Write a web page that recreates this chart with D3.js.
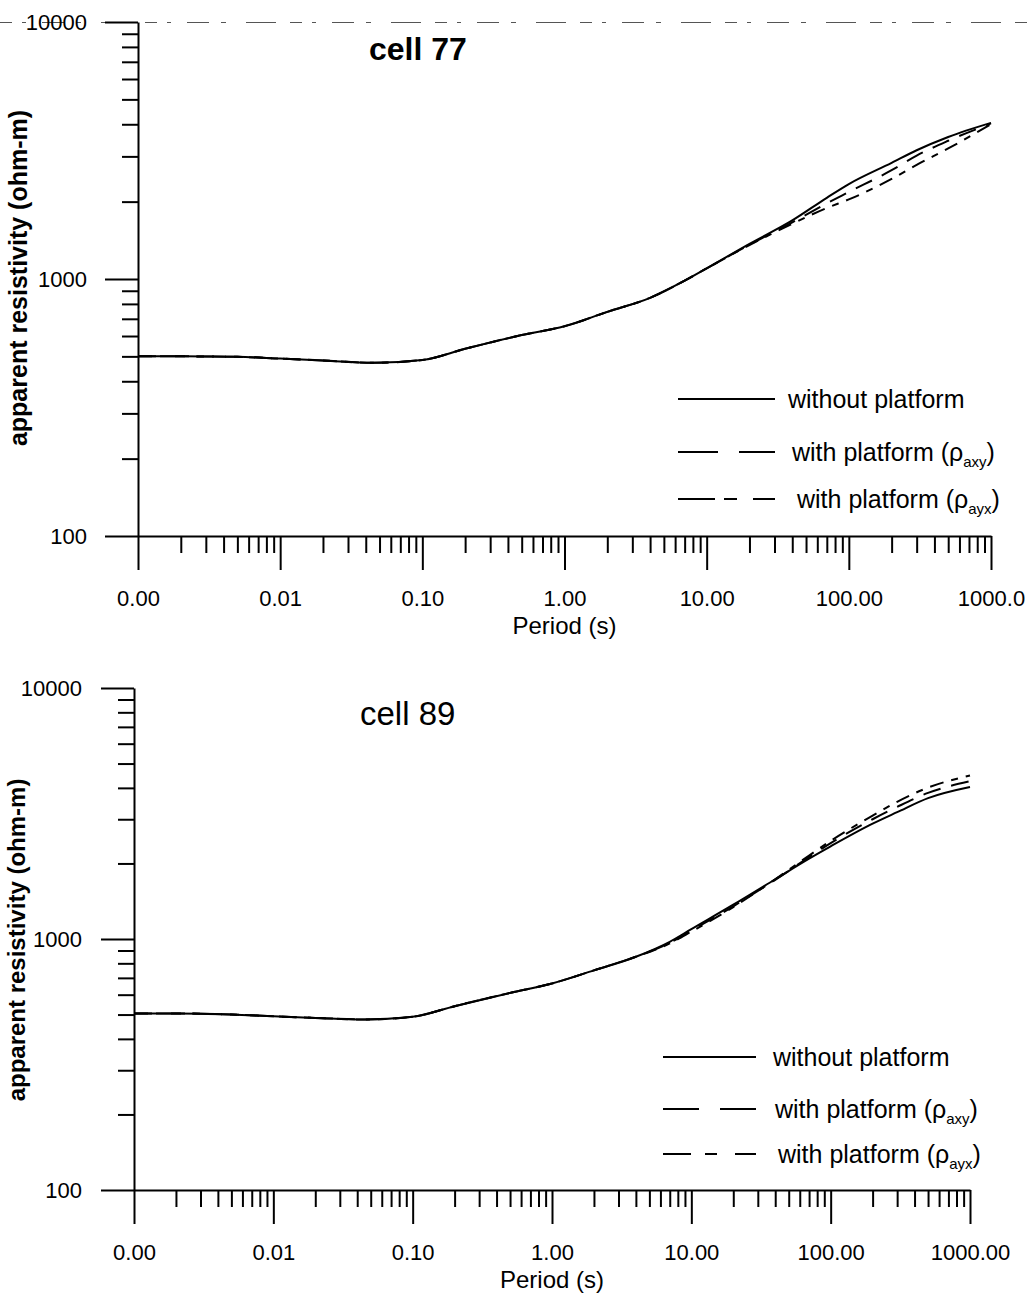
<!DOCTYPE html>
<html>
<head>
<meta charset="utf-8">
<script src="https://cdn.jsdelivr.net/npm/d3@7"></script>
<style>
  body { margin: 0; background: #fff; }
  svg { display: block; }
</style>
</head>
<body>
<svg id="chart"></svg>
<script>
// periods (s) shared by every curve
const periods = [0.001, 0.002, 0.005, 0.01, 0.02, 0.045, 0.1, 0.2, 0.5, 1, 2, 4, 7, 10, 20, 40, 70, 100, 200, 300, 500, 1000];

// cell 77 apparent resistivity (ohm-m)
const cell77Without = [500, 500, 498, 490, 482, 472, 484, 535, 605, 655, 745, 845, 985, 1100, 1370, 1690, 2070, 2340, 2830, 3170, 3570, 4050];
const cell77Axy     = [500, 500, 498, 490, 482, 472, 484, 535, 605, 655, 745, 845, 985, 1100, 1360, 1660, 1970, 2180, 2650, 3020, 3450, 4030];
const cell77Ayx     = [500, 500, 498, 490, 482, 472, 484, 535, 605, 655, 745, 845, 985, 1100, 1355, 1640, 1890, 2040, 2450, 2780, 3220, 4000];

// cell 89 apparent resistivity (ohm-m)
const cell89Without = [505, 505, 500, 492, 485, 478, 490, 540, 610, 665, 750, 850, 975, 1095, 1370, 1730, 2090, 2340, 2880, 3200, 3640, 4030];
const cell89Axy     = [505, 505, 500, 492, 485, 478, 490, 540, 610, 665, 750, 850, 965, 1080, 1350, 1720, 2120, 2410, 3000, 3360, 3820, 4250];
const cell89Ayx     = [505, 505, 500, 492, 485, 478, 490, 540, 610, 665, 750, 850, 960, 1070, 1340, 1730, 2150, 2460, 3100, 3520, 4010, 4480];

// ticks
const xTickValues = [0.001, 0.01, 0.1, 1, 10, 100, 1000];
const xTickLabelsTop = ["0.00", "0.01", "0.10", "1.00", "10.00", "100.00", "1000.0"];
const xTickLabelsBottom = ["0.00", "0.01", "0.10", "1.00", "10.00", "100.00", "1000.00"];
const yTickValues = [100, 1000, 10000];
const yTickLabels = ["100", "1000", "10000"];

// legend
const legendText = ["without platform", "with platform (\u03c1", "with platform (\u03c1"];
const legendSub = ["", "axy", "ayx"];

const FONT = "'Liberation Sans', Arial, Helvetica, sans-serif";
const width = 1032;
const height = 1296;

const svg = d3.select("#chart")
  .attr("width", width)
  .attr("height", height)
  .style("background", "#fff");

// scan artifact along the top edge
svg.append("line")
  .attr("x1", 0).attr("x2", width)
  .attr("y1", 22.5).attr("y2", 22.5)
  .attr("stroke", "#555")
  .attr("stroke-width", 1)
  .attr("stroke-dasharray", "12,10,4,16,22,12,5,20,30,14");

// minor ticks 2..9 in every decade
const minorX = [];
for (let e = -3; e < 3; e++) for (let k = 2; k <= 9; k++) minorX.push(k * Math.pow(10, e));
const minorY = [];
for (let e = 2; e < 4; e++) for (let k = 2; k <= 9; k++) minorY.push(k * Math.pow(10, e));

function drawPanel(p) {
  const x = d3.scaleLog().domain([0.001, 1000]).range([p.left, p.right]);
  const y = d3.scaleLog().domain([100, 10000]).range([p.bottom, p.top]);
  const g = svg.append("g");

  // y axis: minor then major
  g.append("g")
    .attr("transform", `translate(${p.left},0)`)
    .call(d3.axisLeft(y).tickValues(minorY).tickSize(16).tickFormat(""))
    .call(a => a.select(".domain").remove());
  g.append("g")
    .attr("transform", `translate(${p.left},0)`)
    .call(d3.axisLeft(y).tickValues(yTickValues).tickSize(33).tickSizeOuter(0)
      .tickPadding(p.yPad).tickFormat((d, i) => yTickLabels[i]))
    .attr("font-size", 22).attr("font-family", FONT);

  // x axis: minor then major
  g.append("g")
    .attr("transform", `translate(0,${p.bottom})`)
    .call(d3.axisBottom(x).tickValues(minorX).tickSize(17).tickFormat(""))
    .call(a => a.select(".domain").remove());
  g.append("g")
    .attr("transform", `translate(0,${p.bottom})`)
    .call(d3.axisBottom(x).tickValues(xTickValues).tickSize(34).tickSizeOuter(0)
      .tickPadding(20).tickFormat((d, i) => p.xLabels[i]))
    .attr("font-size", 22).attr("font-family", FONT);

  g.selectAll(".domain, .tick line").attr("stroke", "#000").attr("stroke-width", 2);
  g.selectAll(".tick text").attr("fill", "#000");

  // axis titles
  g.append("text")
    .attr("transform", `translate(${p.yLabelX},${p.yLabelY}) rotate(-90)`)
    .attr("text-anchor", "middle")
    .attr("font-family", FONT).attr("font-size", p.yLabelSize).attr("font-weight", "bold")
    .text("apparent resistivity (ohm-m)");
  g.append("text")
    .attr("x", x(1)).attr("y", p.bottom + 98)
    .attr("text-anchor", "middle")
    .attr("font-family", FONT).attr("font-size", 24)
    .text("Period (s)");

  // panel title
  g.append("text")
    .attr("x", p.titleX).attr("y", p.titleY)
    .attr("font-family", FONT).attr("font-size", p.titleSize).attr("font-weight", p.titleWeight)
    .text(p.title);

  // curves
  const line = d3.line()
    .x((d, i) => x(periods[i]))
    .y(d => y(d))
    .curve(d3.curveMonotoneX);

  p.series.forEach((s, i) => {
    g.append("path")
      .datum(s)
      .attr("fill", "none")
      .attr("stroke", "#000")
      .attr("stroke-width", 2)
      .attr("stroke-dasharray", p.curveDash[i])
      .attr("d", line);
  });

  // legend
  p.legendRows.forEach((r, i) => {
    g.append("line")
      .attr("x1", p.legX1).attr("x2", p.legX2)
      .attr("y1", r.y).attr("y2", r.y)
      .attr("stroke", "#000").attr("stroke-width", 2)
      .attr("stroke-dasharray", p.legendDash[i]);
    const t = g.append("text")
      .attr("x", r.tx).attr("y", r.y + 9)
      .attr("font-family", FONT).attr("font-size", 25)
      .text(legendText[i]);
    if (legendSub[i]) {
      t.append("tspan").attr("dy", 6).attr("font-size", 15).text(legendSub[i]);
      t.append("tspan").attr("dy", -6).attr("font-size", 25).text(")");
    }
  });
}

drawPanel({
  left: 138, right: 991, top: 22, bottom: 536,
  xLabels: xTickLabelsTop, yPad: 18,
  yLabelX: 27, yLabelY: 278, yLabelSize: 25,
  title: "cell 77", titleX: 369, titleY: 60, titleSize: 32, titleWeight: "bold",
  series: [cell77Without, cell77Axy, cell77Ayx],
  curveDash: [null, "18,11", "14,8,7,8"],
  legX1: 678, legX2: 775,
  legendDash: [null, "40,21", "37,9,13,16"],
  legendRows: [{ y: 399, tx: 788 }, { y: 452, tx: 792 }, { y: 499, tx: 797 }]
});

drawPanel({
  left: 134, right: 970, top: 688, bottom: 1190,
  xLabels: xTickLabelsBottom, yPad: 19,
  yLabelX: 25, yLabelY: 940, yLabelSize: 24,
  title: "cell 89", titleX: 360, titleY: 725, titleSize: 33, titleWeight: "normal",
  series: [cell89Without, cell89Axy, cell89Ayx],
  curveDash: [null, "18,11", "14,8,7,8"],
  legX1: 663, legX2: 756,
  legendDash: [null, "36,21", "28,14,12,18"],
  legendRows: [{ y: 1057, tx: 773 }, { y: 1109, tx: 775 }, { y: 1154, tx: 778 }]
});
</script>
</body>
</html>
